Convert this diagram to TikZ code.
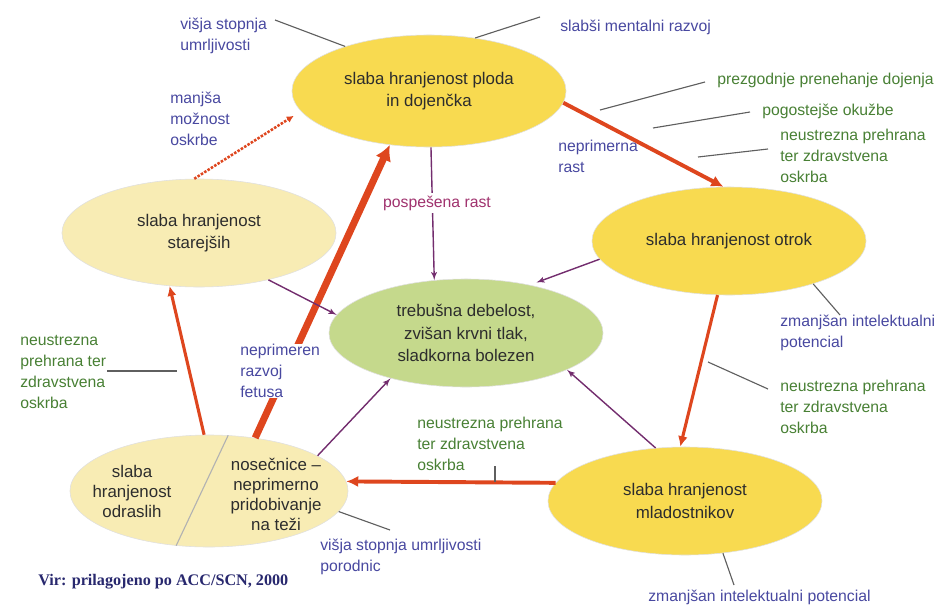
\documentclass[tikz,border=0pt]{standalone}
\usepackage{fontspec}
\setmainfont{Liberation Sans}
\newfontfamily\virfont{Liberation Serif}
\usetikzlibrary{shapes,arrows,arrows.meta,positioning,calc}
\definecolor{lyellow}{RGB}{248, 218, 80}
\definecolor{lcream}{RGB}{248, 236, 180}
\definecolor{lgreen}{RGB}{197, 217, 140}
\definecolor{lred}{RGB}{222, 70, 30}
\definecolor{lpurple}{RGB}{115, 45, 110}
\definecolor{lgray}{RGB}{95, 95, 95}
\definecolor{ltext}{RGB}{45, 45, 45}
\definecolor{lbluetext}{RGB}{72, 72, 160}
\definecolor{lgreentext}{RGB}{72, 128, 52}
\definecolor{lpinktext}{RGB}{160, 50, 110}
\definecolor{lnavy}{RGB}{40, 40, 110}
\tikzstyle{stage} = [ellipse, draw=black!12, fill=lyellow, align=center,
  text=ltext, minimum width=6.85cm, minimum height=2.7cm, inner sep=1pt,
  font=\fontsize{12}{16}\selectfont]
\tikzstyle{stagetext} = [align=center, text=ltext, inner sep=0pt,
  font=\fontsize{12}{14.2}\selectfont]
\tikzstyle{bluenote} = [align=left, text=lbluetext, inner sep=0pt,
  font=\fontsize{11.2}{14.9}\selectfont]
\tikzstyle{greennote} = [align=left, text=lgreentext, inner sep=0pt,
  font=\fontsize{11.2}{14.9}\selectfont]
\tikzstyle{cycle line} = [draw, color=lred]
\tikzstyle{effect arrow} = [draw, color=lpurple, line width=1pt, -latex']
\tikzstyle{pointer} = [draw, color=lgray, line width=0.8pt]
\tikzset{
  cycle head/.style 2 args={-{Latex[length=#1, width=#2]}}, % red arrow tip
}

\begin{document}
\begin{tikzpicture}[x=0.025cm, y=-0.025cm, auto]
  \useasboundingbox (0,0) rectangle (944,605);

  %%%%%%%%%%%%%%%%%%%%%%%%%%%%%%%%%%%%%%%%%%%%%%%%%%%%%%%%%%%%%%
  %                   LIFE CYCLE STAGES                        %
  %%%%%%%%%%%%%%%%%%%%%%%%%%%%%%%%%%%%%%%%%%%%%%%%%%%%%%%%%%%%%%

  \node [stage, minimum height=2.8cm] at (429,91) (ploda) {slaba hranjenost ploda\\in dojenčka};
  \node [stage] at (729,241) (otrok) {slaba hranjenost otrok};
  \node [stage] at (685,501) (mladi) {slaba hranjenost\\mladostnikov};
  \node [stage, fill=lcream, minimum width=6.95cm, minimum height=2.8cm] at (209,491) (odrasli) {};
  \node [stage, fill=lcream] at (199,233) (starejsi) {slaba hranjenost\\starejših};
  \node [stage, fill=lgreen] at (466,333) (bolezen) {trebušna debelost,\\zvišan krvni tlak,\\sladkorna bolezen};

  \draw [color=black!30, line width=0.8pt] (odrasli.71) -- (odrasli.239);
  \node [stagetext] at (132,491) (odrasli-left) {slaba\\hranjenost\\odraslih};
  \node [stagetext] at (276,494) (odrasli-right) {nosečnice –\\neprimerno\\pridobivanje\\na teži};

  %%%%%%%%%%%%%%%%%%%%%%%%%%%%%%%%%%%%%%%%%%%%%%%%%%%%%%%%%%%%%%
  %                   CYCLE ARROWS                             %
  %%%%%%%%%%%%%%%%%%%%%%%%%%%%%%%%%%%%%%%%%%%%%%%%%%%%%%%%%%%%%%

  \draw [cycle line, line width=2.8pt, cycle head={8.5pt}{8.5pt}] (ploda.-5) -- (otrok.96);
  \draw [cycle line, line width=2.2pt, cycle head={7.5pt}{7pt}] (otrok.258) -- (mladi.95);
  \draw [cycle line, line width=2.8pt, cycle head={8.5pt}{8pt}] (mladi.172) -- (odrasli.4);
  \draw [cycle line, line width=2.2pt, cycle head={7pt}{6.5pt}] (odrasli.95) -- (starejsi.241);
  \draw [cycle line, line width=5pt, cycle head={11pt}{12pt}] (odrasli.49) -- (ploda.234);
  \draw [cycle line, line width=1.8pt, densely dotted, cycle head={5pt}{5pt}, shorten >=6pt] (starejsi.95) -- (ploda.189);

  %%%%%%%%%%%%%%%%%%%%%%%%%%%%%%%%%%%%%%%%%%%%%%%%%%%%%%%%%%%%%%
  %                   EFFECTS ON HEALTH                        %
  %%%%%%%%%%%%%%%%%%%%%%%%%%%%%%%%%%%%%%%%%%%%%%%%%%%%%%%%%%%%%%

  \draw [effect arrow] (ploda.-88) -- (bolezen.121);
  \draw [effect arrow] (starejsi.-34) -- (bolezen.172);
  \draw [effect arrow, shorten >=5pt] (otrok.188) -- (bolezen.37);
  \draw [effect arrow] (odrasli.18) -- (bolezen.211);
  \draw [effect arrow] (mladi.119) -- (bolezen.-20);

  \node [bluenote, text=lpinktext, fill=white, inner sep=2pt] at (437,203) (pospesena) {pospešena rast};
  \node [bluenote, fill=white, anchor=north west] at (240,344) (fetus) {neprimeren\\razvoj\\fetusa};

  %%%%%%%%%%%%%%%%%%%%%%%%%%%%%%%%%%%%%%%%%%%%%%%%%%%%%%%%%%%%%%
  %                   CONSEQUENCES AND CAUSES                  %
  %%%%%%%%%%%%%%%%%%%%%%%%%%%%%%%%%%%%%%%%%%%%%%%%%%%%%%%%%%%%%%

  \node [bluenote, anchor=north west] at (180,18) (umrljivost) {višja stopnja\\umrljivosti};
  \coordinate (umrljivost-end) at (275,20);
  \draw [pointer] (umrljivost-end) -- (ploda.152);

  \node [bluenote, anchor=west] at (560,27) (mentalni) {slabši mentalni razvoj};
  \coordinate (mentalni-end) at (540,17);
  \draw [pointer] (ploda.49) -- (mentalni-end);

  \node [bluenote, anchor=north west] at (170,92) (moznost) {manjša\\možnost\\oskrbe};

  \node [greennote, anchor=west] at (717,80) (dojenje) {prezgodnje prenehanje dojenja};
  \coordinate (dojenje-a) at (600,110);
  \coordinate (dojenje-b) at (705,82);
  \draw [pointer] (dojenje-a) -- (dojenje-b);

  \node [greennote, anchor=west] at (762,111) (okuzbe) {pogostejše okužbe};
  \coordinate (okuzbe-a) at (653,128);
  \coordinate (okuzbe-b) at (750,112);
  \draw [pointer] (okuzbe-a) -- (okuzbe-b);

  \node [greennote, anchor=north west] at (780,129) (oskrba-otrok) {neustrezna prehrana\\ter zdravstvena\\oskrba};
  \coordinate (oskrba-otrok-a) at (698,157);
  \coordinate (oskrba-otrok-b) at (768,149);
  \draw [pointer] (oskrba-otrok-a) -- (oskrba-otrok-b);

  \node [bluenote, anchor=north west] at (558,140) (rast) {neprimerna\\rast};

  \node [bluenote, anchor=north west] at (780,315) (potencial-otrok) {zmanjšan intelektualni\\potencial};
  \coordinate (potencial-otrok-end) at (840,315);
  \draw [pointer] (otrok.-27) -- (potencial-otrok-end);

  \node [greennote, anchor=north west] at (780,380) (oskrba-mladi) {neustrezna prehrana\\ter zdravstvena\\oskrba};
  \coordinate (oskrba-mladi-a) at (708,362);
  \coordinate (oskrba-mladi-b) at (768,389);
  \draw [pointer] (oskrba-mladi-a) -- (oskrba-mladi-b);

  \node [greennote, anchor=north west] at (20,335) (oskrba-odrasli) {neustrezna\\prehrana ter\\zdravstvena\\oskrba};
  \coordinate (oskrba-odrasli-a) at (107,371);
  \coordinate (oskrba-odrasli-b) at (177,371);
  \draw [pointer] (oskrba-odrasli-a) -- (oskrba-odrasli-b);

  \node [greennote, anchor=north west] at (417,417) (oskrba-nosecnice) {neustrezna prehrana\\ter zdravstvena\\oskrba};
  \coordinate (tick-top) at (495,466);
  \coordinate (tick-bottom) at (495,482);
  \draw [pointer] (tick-top) -- (tick-bottom);

  \node [bluenote, anchor=north west] at (320,539) (porodnic) {višja stopnja umrljivosti\\porodnic};
  \coordinate (porodnic-end) at (390,530);
  \draw [pointer] (odrasli.-9) -- (porodnic-end);

  \node [bluenote, anchor=west] at (648,597) (potencial-mladi) {zmanjšan intelektualni potencial};
  \coordinate (potencial-mladi-end) at (734,585);
  \draw [pointer] (mladi.-54) -- (potencial-mladi-end);

  \node [anchor=west, inner sep=0pt, text=lnavy, font=\virfont\bfseries\fontsize{11.5}{13}\selectfont] at (38,582) (vir) {Vir: prilagojeno po ACC/SCN, 2000};

\end{tikzpicture}
\end{document}
